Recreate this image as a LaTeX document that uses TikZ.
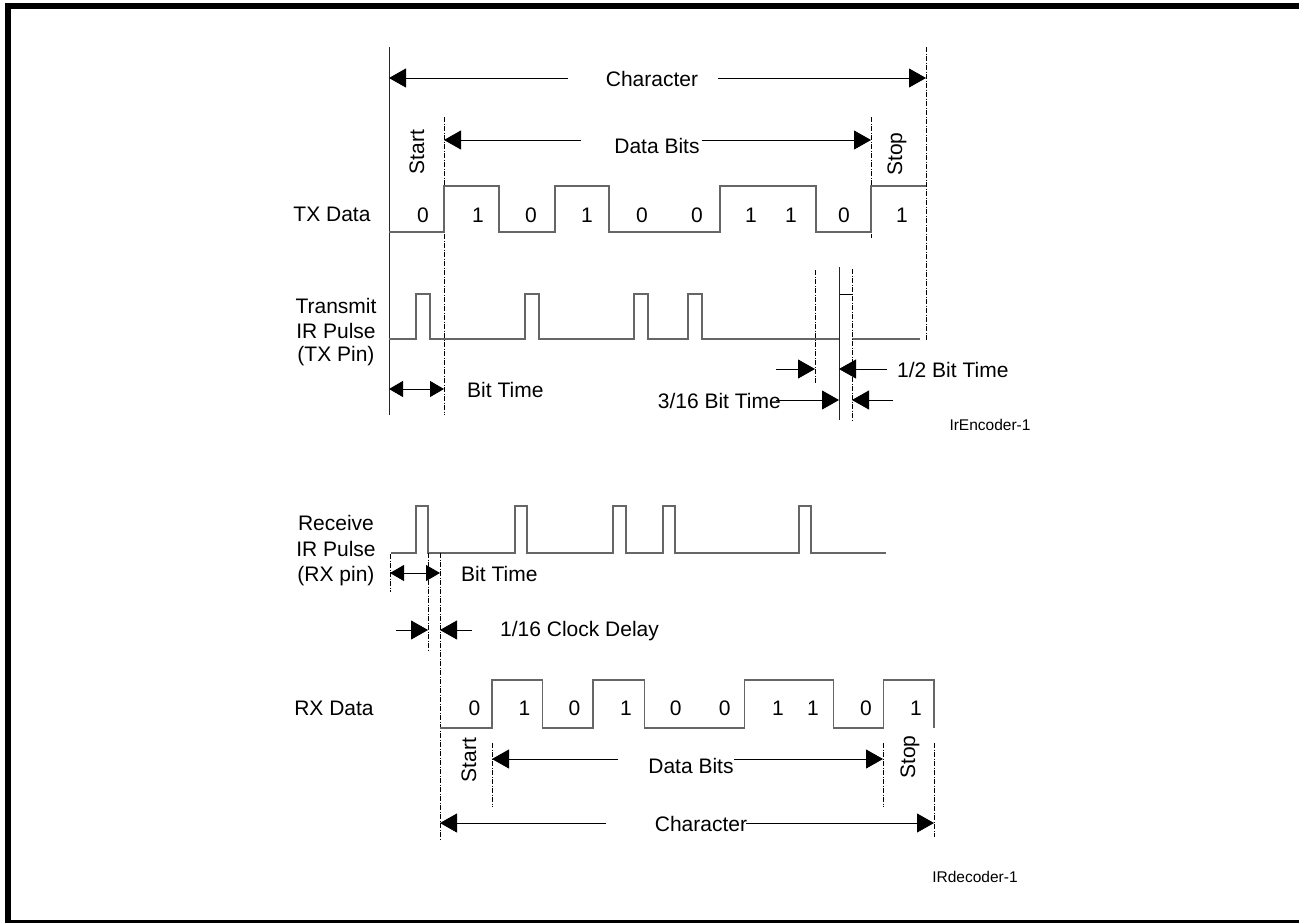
\documentclass[tikz,border=0pt]{standalone}
\usepackage{fontspec}
\setmainfont{Liberation Sans}
\usetikzlibrary{arrows.meta}
\begin{document}
\begin{tikzpicture}[x=1pt,y=-1pt,
  wave/.style={draw=black!60, line width=1.4pt, line join=miter},
  toponly/.style={draw=black, line width=1pt},
  dim/.style={draw=black, line width=0.9pt},
  arr/.style={dim,-{Triangle[length=17pt,width=19pt]}},
  darr/.style={dim,{Triangle[length=14pt,width=16pt]}-{Triangle[length=14pt,width=16pt]}},
  guide/.style={draw=black, line width=0.8pt, dash pattern=on 5pt off 1.5pt on 1pt off 1.5pt},
  solidguide/.style={draw=black!85, line width=0.9pt},
  lbl/.style={inner sep=0pt, font=\fontsize{21}{25}\selectfont},
  small/.style={inner sep=0pt, font=\fontsize{15.5}{18}\selectfont},
]
\useasboundingbox (0,0) rectangle (1299,922);
\clip (0,0) rectangle (1299,922);
\fill[white] (0,0) rectangle (1299,922);
\draw[line width=6pt] (8,6) rectangle (1302,923);

% ================= TX part =================
\coordinate (tlT) at (389,47);
\coordinate (tlB) at (389,415);
\draw[solidguide] (tlT) -- (tlB);
\coordinate (g1T) at (444,117); \coordinate (g1B) at (444,415);
\coordinate (g2T) at (871,117); \coordinate (g2B) at (871,238);
\coordinate (g3T) at (926,47);  \coordinate (g3B) at (926,340);
\draw[guide] (g1T) -- (g1B);
\draw[guide] (g2T) -- (g2B);
\draw[guide] (g3T) -- (g3B);

% Character (top)
\node[lbl] (charT) at (652,79) {Character};
\coordinate (cTa) at (389,78); \coordinate (cTm1) at (568,78);
\coordinate (cTm2) at (718,78); \coordinate (cTb) at (926,78);
\draw[arr] (cTm1) -- (cTa);
\draw[arr] (cTm2) -- (cTb);

% Data Bits (top)
\node[lbl] (dbT) at (657,146) {Data Bits};
\coordinate (dTa) at (444,140); \coordinate (dTm1) at (581,140);
\coordinate (dTm2) at (702,140); \coordinate (dTb) at (871,140);
\draw[arr] (dTm1) -- (dTa);
\draw[arr] (dTm2) -- (dTb);

\node[lbl,rotate=90] (startT) at (417,152) {Start};
\node[lbl,rotate=90] (stopT) at (897,154) {Stop};

% TX Data waveform
\node[lbl] (txdata) at (332,214) {TX Data};
\draw[wave] (389,232) -- (444,232) -- (444,186) -- (499,186) -- (499,232)
  -- (555,232) -- (555,186) -- (609,186) -- (609,232) -- (720,232)
  -- (720,186) -- (816,186) -- (816,232) -- (871,232) -- (871,186) -- (926,186);
\foreach \x/\b [count=\i] in {423/0,478/1,531/0,587/1,642/0,697/0,751/1,791/1,844/0,902/1}
  \node[lbl] (tb\i) at (\x,215) {\b};

% Transmit IR pulse
\node[lbl] (tr1) at (336,306) {Transmit};
\node[lbl] (tr2) at (336,331) {IR Pulse};
\node[lbl] (tr3) at (336,356) {(TX Pin)};
\draw[wave] (389,339) -- (416,339) -- (416,294) -- (430,294) -- (430,339)
  -- (525,339) -- (525,294) -- (539,294) -- (539,339)
  -- (634,339) -- (634,294) -- (648,294) -- (648,339)
  -- (688,339) -- (688,294) -- (702,294) -- (702,339) -- (839,339);
\draw[toponly] (839,294) -- (852,294);
\draw[wave] (852,339) -- (920,339);

\coordinate (h1T) at (815,270); \coordinate (h1B) at (815,384);
\coordinate (h2T) at (839,267); \coordinate (h2B) at (839,420);
\coordinate (h3T) at (852,269); \coordinate (h3B) at (852,420);
\draw[guide] (h1T) -- (h1B);
\draw[solidguide] (h2T) -- (h2B);
\draw[guide] (h3T) -- (h3B);

% Bit Time (TX)
\coordinate (btTa) at (389,389); \coordinate (btTb) at (444,389);
\draw[darr] (btTa) -- (btTb);
\node[lbl,anchor=west] (bttxt) at (467,390) {Bit Time};

% 1/2 Bit Time
\coordinate (hfa) at (776,369); \coordinate (hfb) at (815,369);
\coordinate (hfc) at (887,369); \coordinate (hfd) at (839,369);
\draw[arr] (hfa) -- (hfb);
\draw[arr] (hfc) -- (hfd);
\node[lbl,anchor=west] (halftxt) at (897,370) {1/2 Bit Time};

% 3/16 Bit Time
\node[lbl,anchor=east] (t316) at (781,401) {3/16 Bit Time};
\coordinate (tsa) at (776,400); \coordinate (tsb) at (839,400);
\coordinate (tsc) at (893,400); \coordinate (tsd) at (852,400);
\draw[arr] (tsa) -- (tsb);
\draw[arr] (tsc) -- (tsd);

\node[small] (enc) at (990,425) {IrEncoder-1};

% ================= RX part =================
\node[lbl] (rc1) at (336,523) {Receive};
\node[lbl] (rc2) at (336,549) {IR Pulse};
\node[lbl] (rc3) at (336,576) {(RX pin)};
\draw[wave] (391,553) -- (416,553) -- (416,506) -- (428,506) -- (428,553)
  -- (515,553) -- (515,506) -- (527,506) -- (527,553)
  -- (613,553) -- (613,506) -- (626,506) -- (626,553)
  -- (663,553) -- (663,506) -- (675,506) -- (675,553)
  -- (799,553) -- (799,506) -- (811,506) -- (811,553) -- (886,553);

\coordinate (r1T) at (390,554); \coordinate (r1B) at (390,592);
\coordinate (r2T) at (428,553); \coordinate (r2B) at (428,652);
\coordinate (r3T) at (440,553); \coordinate (r3B) at (440,840);
\draw[guide] (r1T) -- (r1B);
\draw[guide] (r2T) -- (r2B);
\draw[guide] (r3T) -- (r3B);

% Bit Time (RX)
\coordinate (btRa) at (390,573); \coordinate (btRb) at (440,573);
\draw[darr] (btRa) -- (btRb);
\node[lbl,anchor=west] (btrtxt) at (461,574) {Bit Time};

% 1/16 Clock Delay
\coordinate (cda) at (396,630); \coordinate (cdb) at (428,630);
\coordinate (cdc) at (472,630); \coordinate (cdd) at (440,630);
\draw[arr] (cda) -- (cdb);
\draw[arr] (cdc) -- (cdd);
\node[lbl,anchor=west] (cdtxt) at (500,631) {1/16 Clock Delay};

% RX Data waveform
\node[lbl] (rxdata) at (334,708) {RX Data};
\draw[wave] (440,728) -- (492,728) -- (492,680) -- (542.5,680) -- (542.5,728)
  -- (593,728) -- (593,680) -- (644.6,680) -- (644.6,728) -- (744.6,728)
  -- (744.6,680) -- (833.3,680) -- (833.3,728) -- (883.3,728) -- (883.3,680)
  -- (934,680) -- (934,728);
\foreach \x/\b [count=\i] in {474.5/0,524.5/1,574.5/0,626/1,675.6/0,724.6/0,778/1,813/1,866/0,916/1}
  \node[lbl] (rb\i) at (\x,708) {\b};

\coordinate (q1T) at (492,743); \coordinate (q1B) at (492,807);
\coordinate (q2T) at (883,743); \coordinate (q2B) at (883,807);
\coordinate (q3T) at (934,743); \coordinate (q3B) at (934,837);
\draw[guide] (q1T) -- (q1B);
\draw[guide] (q2T) -- (q2B);
\draw[guide] (q3T) -- (q3B);

\node[lbl,rotate=90] (startR) at (469,760) {Start};
\node[lbl,rotate=90] (stopR) at (910,757) {Stop};

% Data Bits (bottom)
\node[lbl] (dbR) at (691,766) {Data Bits};
\coordinate (dRa) at (492,759); \coordinate (dRm1) at (618,759);
\coordinate (dRm2) at (734,759); \coordinate (dRb) at (883,759);
\draw[arr] (dRm1) -- (dRa);
\draw[arr] (dRm2) -- (dRb);

% Character (bottom)
\node[lbl] (charR) at (701,824) {Character};
\coordinate (cRa) at (440,823); \coordinate (cRm1) at (606,823);
\coordinate (cRm2) at (746,823); \coordinate (cRb) at (934,823);
\draw[arr] (cRm1) -- (cRa);
\draw[arr] (cRm2) -- (cRb);

\node[small] (dec) at (975,877) {IRdecoder-1};
\end{tikzpicture}
\end{document}
